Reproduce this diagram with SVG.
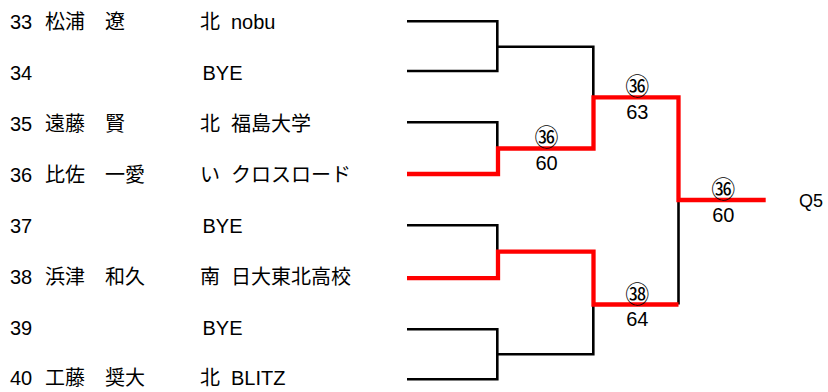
<svg xmlns="http://www.w3.org/2000/svg" width="828" height="392" viewBox="0 0 828 392">
<style>
text{font-family:"Liberation Sans","Noto Sans CJK JP",sans-serif;font-size:20px;fill:#000}
.s{text-anchor:middle}
.c{text-anchor:middle;font-family:"Noto Sans CJK JP",sans-serif;font-size:24px}
.b{fill:none;stroke:#000;stroke-width:2.6}
.r{fill:none;stroke:#ff0000;stroke-width:4.3}
</style>
<rect width="828" height="392" fill="#fff"/>
<g id="p33"><text x="10" y="29">33</text><text x="45" y="29">松浦　遼</text><text x="200" y="29">北<tspan x="231">nobu</tspan></text></g>
<g id="p34"><text x="10" y="80">34</text><text x="202.5" y="80">BYE</text></g>
<g id="p35"><text x="10" y="131">35</text><text x="45" y="131">遠藤　賢</text><text x="200" y="131">北<tspan x="231">福島大学</tspan></text></g>
<g id="p36"><text x="10" y="182">36</text><text x="45" y="182">比佐　一愛</text><text x="200" y="182">い<tspan x="231">クロスロード</tspan></text></g>
<g id="p37"><text x="10" y="233">37</text><text x="202.5" y="233">BYE</text></g>
<g id="p38"><text x="10" y="284">38</text><text x="45" y="284">浜津　和久</text><text x="200" y="284">南<tspan x="231">日大東北高校</tspan></text></g>
<g id="p39"><text x="10" y="335">39</text><text x="202.5" y="335">BYE</text></g>
<g id="p40"><text x="10" y="385">40</text><text x="45" y="385">工藤　奨大</text><text x="200" y="385">北<tspan x="231">BLITZ</tspan></text></g>
<g id="connectors">
<path class="b" d="M407 21.3H497.3V71H407M497.3 46.7H593.3V97"/>
<path class="b" d="M407 122.3H497.3V148.5"/>
<path class="b" d="M407 225.3H497.3V252"/>
<path class="b" d="M407 329.3H497.3V379.3H407M497.3 354.3H593.3V304.5"/>
<path class="b" d="M678.5 304.5V200"/>
<path class="r" d="M407 174H498V148.5H593.5V97.3H678.5V200H765.7"/>
<path class="r" d="M407 278.2H498V251.7H593.5V304.5H678.5"/>
</g>
<g id="scores">
<text class="c" x="546.5" y="145.5">㊱</text><text class="s" x="546.5" y="169.5">60</text>
<text class="c" x="637.3" y="95">㊱</text><text class="s" x="637.3" y="118.5">63</text>
<text class="c" x="723.3" y="198">㊱</text><text class="s" x="723.3" y="221.5">60</text>
<text class="c" x="637.3" y="302.5">㊳</text><text class="s" x="637.3" y="326">64</text>
<text x="799" y="207" style="font-size:18px">Q5</text>
</g>
</svg>
